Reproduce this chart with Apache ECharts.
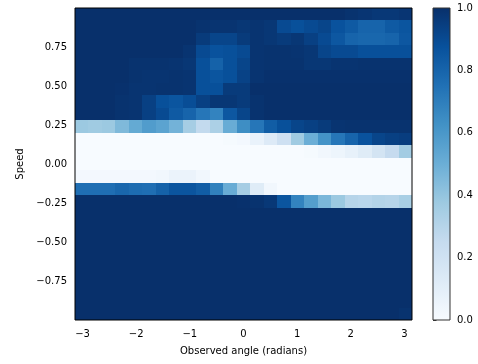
<!DOCTYPE html>
<html>
<head>
<meta charset="utf-8">
<title>Speed vs observed angle</title>
<script src="https://cdn.jsdelivr.net/npm/echarts@6/dist/echarts.min.js"></script>
<style>
html, body { margin: 0; padding: 0; background: #fff; }
#main { width: 478px; height: 364px; }
</style>
</head>
<body>
<div id="main"></div>
<script>
// grid of 25 x 25 bins, angle -pi..pi, speed -1..1
var nBins = 25;
var xTicks = [-3, -2, -1, 0, 1, 2, 3];
var yTicks = [-0.75, -0.5, -0.25, 0, 0.25, 0.5, 0.75];
var cbTicks = [0, 0.2, 0.4, 0.6, 0.8, 1.0];

// rows from the top (speed ~ 0.96) down to the bottom (speed ~ -0.96)
var row00 = [1, 1, 1, 1, 1, 1, 1, 1, 1, 1, 1, 1, 1, 1, 1, 1, 1, 1, 1, 1, 0.99, 0.98, 0.97, 0.97, 0.98];
var row01 = [1, 1, 1, 1, 1, 1, 1, 1, 1, 0.99, 0.985, 0.985, 0.975, 0.985, 0.975, 0.9, 0.88, 0.9, 0.92, 0.87, 0.84, 0.8, 0.8, 0.84, 0.86];
var row02 = [1, 1, 1, 1, 1, 1, 1, 1, 1, 0.96, 0.92, 0.92, 0.96, 0.985, 0.975, 0.96, 0.975, 0.94, 0.9, 0.85, 0.8, 0.79, 0.79, 0.8, 0.85];
var row03 = [1, 1, 1, 1, 1, 1, 1, 1, 0.985, 0.9, 0.87, 0.88, 0.9, 0.985, 0.99, 0.99, 0.985, 0.975, 0.92, 0.9, 0.9, 0.88, 0.88, 0.88, 0.88];
var row04 = [1, 1, 1, 1, 0.99, 0.99, 0.99, 0.985, 0.975, 0.88, 0.81, 0.88, 0.92, 0.985, 0.99, 0.99, 0.99, 0.975, 0.975, 0.985, 0.985, 0.99, 0.99, 0.99, 0.99];
var row05 = [1, 1, 1, 1, 0.99, 0.985, 0.985, 0.99, 0.985, 0.88, 0.86, 0.88, 0.93, 0.985, 0.995, 0.995, 0.995, 0.995, 0.995, 0.995, 0.995, 0.995, 0.995, 0.995, 0.995];
var row06 = [1, 1, 1, 0.995, 0.985, 0.985, 0.99, 0.99, 0.985, 0.88, 0.88, 0.96, 0.96, 1, 1, 1, 1, 1, 1, 1, 1, 1, 1, 1, 1];
var row07 = [1, 1, 1, 0.99, 0.985, 0.94, 0.88, 0.86, 0.89, 0.94, 0.975, 0.975, 0.96, 0.99, 1, 1, 1, 1, 1, 1, 1, 1, 1, 1, 1];
var row08 = [1, 1, 1, 0.99, 0.985, 0.94, 0.9, 0.84, 0.8, 0.73, 0.68, 0.85, 0.92, 0.99, 1, 1, 1, 1, 1, 1, 1, 1, 1, 1, 1];
var row09 = [0.38, 0.37, 0.38, 0.45, 0.52, 0.58, 0.55, 0.48, 0.35, 0.26, 0.33, 0.51, 0.64, 0.73, 0.83, 0.88, 0.92, 0.94, 0.96, 0.985, 0.99, 0.99, 0.99, 0.99, 0.99];
var row10 = [0, 0, 0, 0, 0, 0, 0, 0, 0, 0, 0, 0.01, 0.02, 0.07, 0.13, 0.21, 0.37, 0.5, 0.62, 0.73, 0.8, 0.87, 0.92, 0.94, 0.95];
var row11 = [0, 0, 0, 0, 0, 0, 0, 0, 0, 0, 0, 0, 0, 0, 0, 0, 0, 0.01, 0.03, 0.05, 0.08, 0.12, 0.18, 0.25, 0.36];
var row12 = [0, 0, 0, 0, 0, 0, 0, 0, 0, 0, 0, 0, 0, 0, 0, 0, 0, 0, 0, 0, 0, 0, 0, 0, 0];
var row13 = [0.02, 0.02, 0.02, 0.02, 0.02, 0.02, 0.03, 0.06, 0.06, 0.03, 0, 0, 0, 0, 0, 0, 0, 0, 0, 0, 0, 0, 0, 0, 0];
var row14 = [0.76, 0.76, 0.76, 0.79, 0.77, 0.76, 0.81, 0.86, 0.86, 0.83, 0.69, 0.51, 0.35, 0.12, 0.03, 0, 0, 0, 0, 0, 0, 0, 0, 0, 0];
var row15 = [1, 1, 1, 1, 1, 1, 1, 1, 1, 1, 1, 1, 0.995, 0.99, 0.97, 0.86, 0.68, 0.57, 0.46, 0.38, 0.3, 0.29, 0.31, 0.3, 0.34];
var row16 = [1, 1, 1, 1, 1, 1, 1, 1, 1, 1, 1, 1, 1, 1, 1, 1, 1, 1, 1, 1, 1, 1, 1, 1, 1];
var row17 = [1, 1, 1, 1, 1, 1, 1, 1, 1, 1, 1, 1, 1, 1, 1, 1, 1, 1, 1, 1, 1, 1, 1, 1, 1];
var row18 = [1, 1, 1, 1, 1, 1, 1, 1, 1, 1, 1, 1, 1, 1, 1, 1, 1, 1, 1, 1, 1, 1, 1, 1, 1];
var row19 = [1, 1, 1, 1, 1, 1, 1, 1, 1, 1, 1, 1, 1, 1, 1, 1, 1, 1, 1, 1, 1, 1, 1, 1, 1];
var row20 = [1, 1, 1, 1, 1, 1, 1, 1, 1, 1, 1, 1, 1, 1, 1, 1, 1, 1, 1, 1, 1, 1, 1, 1, 1];
var row21 = [1, 1, 1, 1, 1, 1, 1, 1, 1, 1, 1, 1, 1, 1, 1, 1, 1, 1, 1, 1, 1, 1, 1, 1, 1];
var row22 = [1, 1, 1, 1, 1, 1, 1, 1, 1, 1, 1, 1, 1, 1, 1, 1, 1, 1, 1, 1, 1, 1, 1, 1, 1];
var row23 = [1, 1, 1, 1, 1, 1, 1, 1, 1, 1, 1, 1, 1, 1, 1, 1, 1, 1, 1, 1, 1, 1, 1, 1, 1];
var row24 = [1, 1, 1, 1, 1, 1, 1, 1, 1, 1, 1, 1, 1, 1, 1, 1, 1, 1, 1, 1, 1, 1, 1, 1, 0.99];

var speedRows = [row00, row01, row02, row03, row04, row05, row06, row07, row08, row09,
	row10, row11, row12, row13, row14, row15, row16, row17, row18, row19,
	row20, row21, row22, row23, row24];

// matplotlib "Blues"
var blues = ['#f7fbff', '#deebf7', '#c6dbef', '#9ecae1', '#6baed6', '#4292c6', '#2171b5', '#08519c', '#08306b'];

var binW = 2 * Math.PI / nBins;
var binH = 2 / nBins;
var cells = [];
speedRows.forEach(function (row, r) {
	var y = 1 - binH * (r + 0.5);
	row.forEach(function (v, c) {
		var x = -Math.PI + binW * (c + 0.5);
		cells.push([x, y, v]);
	});
});

function minusSign(s) {
	return String(s).replace('-', '\u2212');
}

var font = 'DejaVu Sans';
var chart = echarts.init(document.getElementById('main'));

chart.setOption({
	animation: false,
	backgroundColor: '#fff',
	textStyle: { fontFamily: font },
	grid: [
		{ left: 75, top: 8, width: 337, height: 312, show: true, borderColor: '#000', borderWidth: 1, backgroundColor: 'transparent', z: 10 },
		{ left: 433, top: 8, width: 17, height: 312, show: true, borderColor: '#333', borderWidth: 1, backgroundColor: 'transparent', z: 10 }
	],
	visualMap: {
		show: false,
		min: 0,
		max: 1,
		dimension: 2,
		seriesIndex: 0,
		inRange: { color: blues }
	},
	xAxis: [
		{
			gridIndex: 0,
			type: 'value',
			min: -Math.PI,
			max: Math.PI,
			name: 'Observed angle (radians)',
			nameLocation: 'middle',
			nameGap: 26,
			nameTextStyle: { color: '#000', fontSize: 10, fontFamily: font },
			axisLine: { show: false },
			splitLine: { show: false },
			axisTick: { show: true, length: 3.5, customValues: xTicks, lineStyle: { color: '#000', width: 0.8 } },
			axisLabel: { customValues: xTicks, color: '#000', fontSize: 10, fontFamily: font, margin: 9, formatter: minusSign }
		},
		{ gridIndex: 1, type: 'value', min: 0, max: 1, show: false }
	],
	yAxis: [
		{
			gridIndex: 0,
			type: 'value',
			min: -1,
			max: 1,
			name: 'Speed',
			nameLocation: 'middle',
			nameGap: 50,
			nameTextStyle: { color: '#000', fontSize: 10, fontFamily: font },
			axisLine: { show: false },
			splitLine: { show: false },
			axisTick: { show: true, length: 3.5, customValues: yTicks, lineStyle: { color: '#000', width: 0.8 } },
			axisLabel: {
				customValues: yTicks, color: '#000', fontSize: 10, fontFamily: font, margin: 8,
				formatter: function (v) { return minusSign(v.toFixed(2)); }
			}
		},
		{
			gridIndex: 1,
			type: 'value',
			position: 'right',
			min: 0,
			max: 1,
			axisLine: { show: false },
			splitLine: { show: false },
			axisTick: { show: true, length: 3.5, customValues: cbTicks, lineStyle: { color: '#000', width: 0.8 } },
			axisLabel: {
				customValues: cbTicks, color: '#000', fontSize: 10, fontFamily: font, margin: 7,
				formatter: function (v) { return v.toFixed(1); }
			}
		}
	],
	series: [
		{
			type: 'custom',
			xAxisIndex: 0,
			yAxisIndex: 0,
			data: cells,
			encode: { x: 0, y: 1 },
			renderItem: function (params, api) {
				var x = api.value(0), y = api.value(1);
				var p0 = api.coord([x - binW / 2, y + binH / 2]);
				var p1 = api.coord([x + binW / 2, y - binH / 2]);
				var x0 = Math.round(p0[0]), y0 = Math.round(p0[1]);
				var x1 = Math.round(p1[0]), y1 = Math.round(p1[1]);
				return {
					type: 'rect',
					shape: { x: x0, y: y0, width: x1 - x0, height: y1 - y0 },
					style: { fill: api.visual('color'), stroke: null }
				};
			}
		},
		{
			// colour bar
			type: 'custom',
			xAxisIndex: 1,
			yAxisIndex: 1,
			data: [[0, 0]],
			renderItem: function (params, api) {
				var p0 = api.coord([0, 1]);
				var p1 = api.coord([1, 0]);
				var stops = blues.map(function (c, i) {
					return { offset: 1 - i / (blues.length - 1), color: c };
				}).reverse();
				return {
					type: 'rect',
					shape: { x: p0[0], y: p0[1], width: p1[0] - p0[0], height: p1[1] - p0[1] },
					style: { fill: new echarts.graphic.LinearGradient(0, 0, 0, 1, stops) }
				};
			}
		}
	]
});
</script>
</body>
</html>
